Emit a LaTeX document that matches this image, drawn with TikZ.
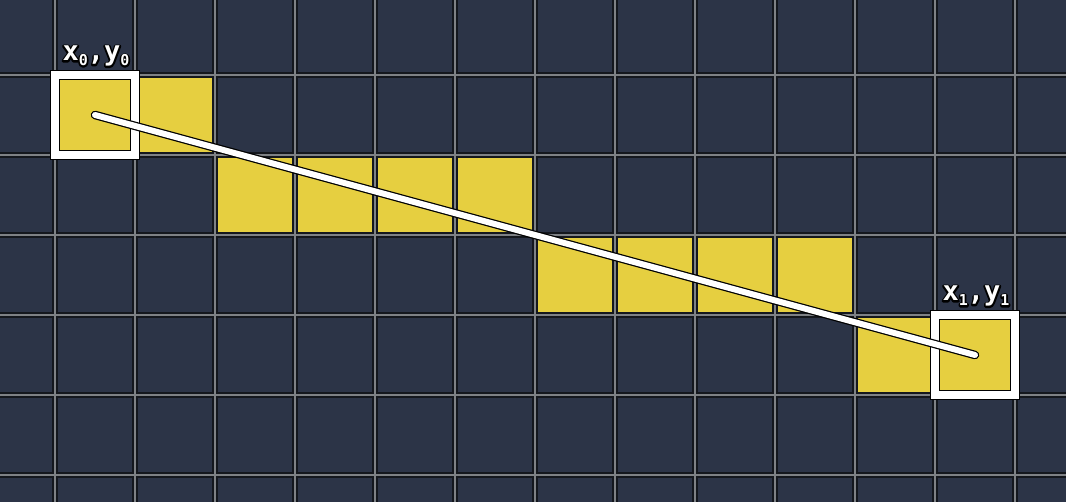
\documentclass[tikz,border=0pt]{standalone}
\usepackage{fontspec}
\newfontfamily\labelfont{DejaVu Sans Mono Bold}
\definecolor{gridgray}{HTML}{7E8185}
\definecolor{navy}{HTML}{2C3447}
\definecolor{cellyellow}{HTML}{E6CF40}
\definecolor{celledge}{HTML}{14171D}
\newcommand{\haloed}[1]{\rlap{\color{black}\special{pdf:literal direct 2 Tr 0 0 0 RG 3.2 w 1 j}#1\special{pdf:literal direct 0 Tr}}#1}
\newcommand{\subz}[1]{\raisebox{-5pt}{\fontsize{15}{15}\selectfont #1}}
\tikzset{
  cellbox/.style={fill=navy, draw=celledge, line width=1.4pt},
  litbox/.style={fill=cellyellow, draw=celledge, line width=1.4pt},
  endframe/.style={draw=black, double=white, double distance=7.5pt, line width=1pt,
    minimum width=80pt, minimum height=80pt, inner sep=0pt, rectangle},
  coordlabel/.style={text=white, font=\labelfont\fontsize{27}{27}\selectfont, inner sep=0pt, anchor=base},
  rayline/.style={line cap=round, line width=8.5pt, draw=black},
  rayinner/.style={line cap=round, line width=6pt, draw=white},
}
\begin{document}
\begin{tikzpicture}[x=1pt,y=-1pt]
\useasboundingbox (0,0) rectangle (1066,502);
\fill[gridgray] (0,0) rectangle (1066,502);
% dark cells
\foreach \i in {-1,...,12}{
  \foreach \j in {0,...,6}{
    \path[cellbox] ({55+80*\i+2},{-5+80*\j+2}) rectangle ({55+80*\i+78},{-5+80*\j+78});
  }
}
% lit cells
\foreach \i/\j in {0/1,1/1,2/2,3/2,4/2,5/2,6/3,7/3,8/3,9/3,10/4,11/4}{
  \path[litbox] ({55+80*\i+2},{-5+80*\j+2}) rectangle ({55+80*\i+78},{-5+80*\j+78});
}
% end point frames
\node[endframe] (p0) at (95,115) {};
\node[endframe] (p1) at (975,355) {};
% the line
\draw[rayline] (p0.center) -- (p1.center);
\draw[rayinner] (p0.center) -- (p1.center);
% labels
\node[coordlabel] (l0) at (96,61) {\haloed{x\subz{0},y\subz{0}}};
\node[coordlabel] (l1) at (976,301) {\haloed{x\subz{1},y\subz{1}}};
\end{tikzpicture}
\end{document}
